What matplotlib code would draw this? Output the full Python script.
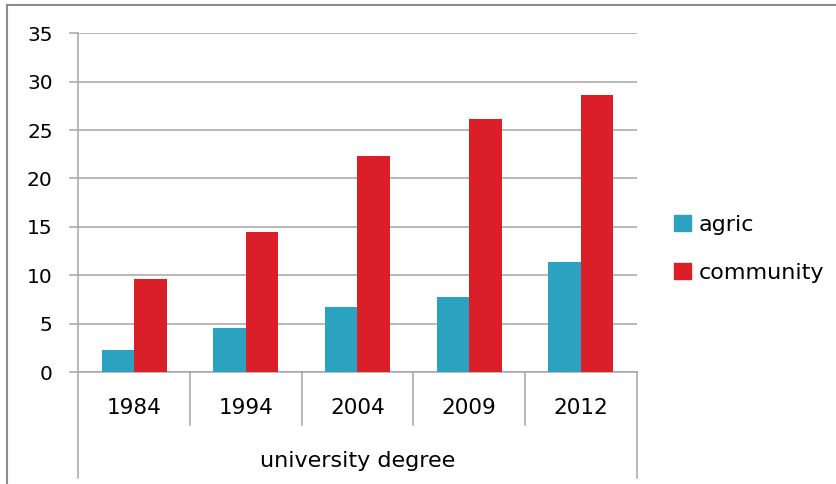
import numpy as np
import matplotlib.pyplot as plt
from matplotlib.lines import Line2D
from matplotlib.patches import Patch

# valeurs du graphique
years = ["1984", "1994", "2004", "2009", "2012"]
agric = [2.3, 4.5, 6.7, 7.7, 11.4]
community = [9.6, 14.5, 22.3, 26.1, 28.6]
axis_title = "university degree"

c_agric = "#2ba3c0"
c_comm = "#da1f29"
grey = "#a6a6a6"

plt.rcParams["font.family"] = "DejaVu Sans"
plt.rcParams["font.size"] = 14.5

fig = plt.figure(figsize=(8.37, 4.84), dpi=100)
ax = fig.add_axes([0.0936, 0.2314, 0.667, 0.700])

x = np.arange(len(years))
w = 0.29
ax.bar(x - w / 2, agric, width=w, color=c_agric, label="agric", zorder=3)
ax.bar(x + w / 2, community, width=w, color=c_comm, label="community", zorder=3)

ax.set_xlim(-0.5, len(years) - 0.5)
ax.set_ylim(0, 35)
ax.set_yticks(range(0, 36, 5))
ax.yaxis.grid(True, color=grey, linewidth=1.1, zorder=0)
ax.tick_params(axis="y", length=6.5, color=grey, width=1.1, pad=12, labelsize=14.5)
ax.tick_params(axis="x", length=0, labelbottom=False)
for s in ["top", "right"]:
    ax.spines[s].set_visible(False)
for s in ["left", "bottom"]:
    ax.spines[s].set_color(grey)
    ax.spines[s].set_linewidth(1.1)

# axe des catégories sous forme de tableau
trans = ax.get_xaxis_transform()
for b in np.arange(0.5, len(years) - 1, 1.0):
    ax.plot([b, b], [0, -0.1565], transform=trans, color=grey, lw=1.1, clip_on=False)
for b in [-0.5, len(years) - 0.5]:
    ax.plot([b, b], [0, -0.313], transform=trans, color=grey, lw=1.1, clip_on=False)
for xi, yr in zip(x, years):
    ax.text(xi, -0.106, yr, transform=trans, ha="center", va="center", fontsize=15.5)
ax.text((len(years) - 1) / 2, -0.263, axis_title, transform=trans,
        ha="center", va="center", fontsize=16)

handles = [Patch(color=c_agric), Patch(color=c_comm)]
fig.legend(handles, ["agric", "community"], loc="upper left",
           bbox_to_anchor=(0.795, 0.574), frameon=False, fontsize=16,
           handlelength=0.75, handleheight=0.75, handletextpad=0.35,
           labelspacing=1.25, borderaxespad=0)

# cadre extérieur
fig.add_artist(Line2D([7 / 837, 7 / 837], [0, 1 - 5 / 484], transform=fig.transFigure,
                      color="#8c8c8c", lw=1.5))
fig.add_artist(Line2D([7 / 837, 1], [1 - 5 / 484, 1 - 5 / 484], transform=fig.transFigure,
                      color="#8c8c8c", lw=1.5))

fig.savefig("out.png", dpi=100)
